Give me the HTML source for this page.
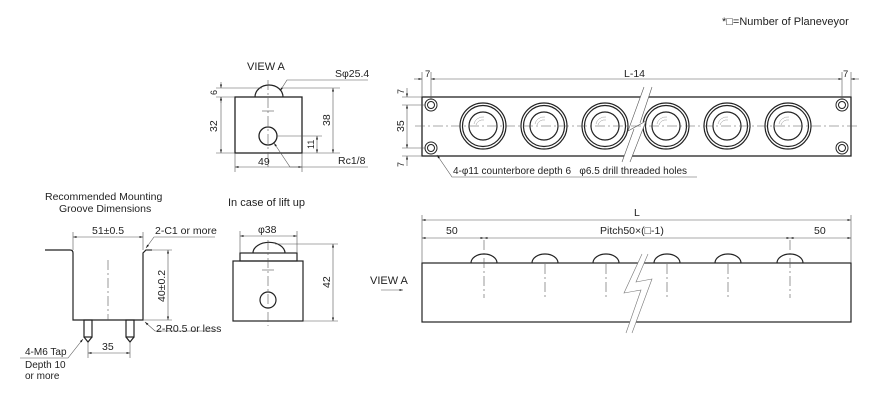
<!DOCTYPE html>
<html><head><meta charset="utf-8"><style>
body{margin:0;background:#fff}
svg{display:block}
text{font-family:"Liberation Sans","Noto Sans CJK JP",sans-serif;fill:#222}
</style></head><body>
<svg width="888" height="400" viewBox="0 0 888 400" xmlns="http://www.w3.org/2000/svg">
<defs>
<marker id="a" viewBox="0 0 10 10" refX="10" refY="5" markerWidth="6" markerHeight="6" orient="auto-start-reverse"><path d="M0,2 L10,5 L0,8z" fill="#222"/></marker>
</defs>
<g font-size="10.5">
<text x="722" y="25" font-size="11">*□=Number of Planeveyor</text>

<!-- VIEW A -->
<text x="247" y="70" font-size="11">VIEW A</text>
<g stroke="#222" fill="none">
<rect x="235" y="97" width="67" height="56" stroke-width="1.3"/>
<path d="M255,97 A14,12 0 0 1 283,97" stroke-width="1.2"/>
<circle cx="268" cy="136" r="9" stroke-width="1.3"/>
</g>
<g stroke="#555" stroke-width="0.6" fill="none">
<line x1="268" y1="80" x2="268" y2="170" stroke-dasharray="10,3,2,3"/>
<line x1="262" y1="111" x2="274" y2="111"/>
<line x1="216" y1="88" x2="262" y2="88"/><line x1="216" y1="97" x2="235" y2="97"/><line x1="216" y1="153" x2="235" y2="153"/>
<line x1="221" y1="82" x2="221" y2="88" marker-end="url(#a)"/><line x1="221" y1="103" x2="221" y2="97" marker-end="url(#a)"/>
<line x1="221" y1="97" x2="221" y2="153" marker-start="url(#a)" marker-end="url(#a)"/>
<line x1="282" y1="88" x2="340" y2="88"/><line x1="302" y1="153" x2="340" y2="153"/><line x1="277" y1="136" x2="322" y2="136"/>
<line x1="333" y1="88" x2="333" y2="153" marker-start="url(#a)" marker-end="url(#a)"/>
<line x1="317" y1="136" x2="317" y2="153" marker-start="url(#a)" marker-end="url(#a)"/>
<line x1="235" y1="153" x2="235" y2="172"/><line x1="302" y1="153" x2="302" y2="172"/>
<line x1="235" y1="167" x2="302" y2="167" marker-start="url(#a)" marker-end="url(#a)"/>
<path d="M368,80 L287,80 L280,91" marker-end="url(#a)"/>
<path d="M368,167 L290,167 L274,143" marker-end="url(#a)"/>
</g>
<text x="335" y="77">Sφ25.4</text>
<text x="338" y="164">Rc1/8</text>
<text x="258" y="165">49</text>
<text transform="translate(217,95) rotate(-90)" font-size="9">6</text>
<text transform="translate(217,132) rotate(-90)">32</text>
<text transform="translate(330,126) rotate(-90)">38</text>
<text transform="translate(314,149) rotate(-90)" font-size="9">11</text>

<!-- Top view -->
<g stroke="#222" fill="none">
<rect x="422" y="97" width="429" height="59" stroke-width="1.3"/>
<g stroke-width="1"><circle cx="431" cy="105" r="6"/><circle cx="431" cy="105" r="3.5"/><circle cx="431" cy="148" r="6"/><circle cx="431" cy="148" r="3.5"/><circle cx="842" cy="105" r="6"/><circle cx="842" cy="105" r="3.5"/><circle cx="842" cy="148" r="6"/><circle cx="842" cy="148" r="3.5"/></g>
<g stroke-width="1.2">
<circle cx="483" cy="126" r="23"/><circle cx="483" cy="126" r="20.5"/><circle cx="483" cy="126" r="14"/>
<circle cx="544" cy="126" r="23"/><circle cx="544" cy="126" r="20.5"/><circle cx="544" cy="126" r="14"/>
<circle cx="605" cy="126" r="23"/><circle cx="605" cy="126" r="20.5"/><circle cx="605" cy="126" r="14"/>
<circle cx="666" cy="126" r="23"/><circle cx="666" cy="126" r="20.5"/><circle cx="666" cy="126" r="14"/>
<circle cx="727" cy="126" r="23"/><circle cx="727" cy="126" r="20.5"/><circle cx="727" cy="126" r="14"/>
<circle cx="788" cy="126" r="23"/><circle cx="788" cy="126" r="20.5"/><circle cx="788" cy="126" r="14"/>
</g>
</g>
<g stroke="#999" stroke-width="0.5" fill="none">
<path d="M474,124 a9,9 0 0 1 10,-7 M476,125 a7,7 0 0 1 8,-5 M535,124 a9,9 0 0 1 10,-7 M537,125 a7,7 0 0 1 8,-5 M596,124 a9,9 0 0 1 10,-7 M598,125 a7,7 0 0 1 8,-5 M657,124 a9,9 0 0 1 10,-7 M659,125 a7,7 0 0 1 8,-5 M718,124 a9,9 0 0 1 10,-7 M720,125 a7,7 0 0 1 8,-5 M779,124 a9,9 0 0 1 10,-7 M781,125 a7,7 0 0 1 8,-5"/>
</g>
<polygon points="644,87 652,87 640,123 646,121 630,162 622,162 634,129 628,131" fill="#fff"/>
<path d="M644,87 L628,131 L646,121 M652,87 L640,123 M634,129 L622,162 M646,121 L630,162" stroke="#555" stroke-width="0.6" fill="none"/>
<g stroke="#555" stroke-width="0.6" fill="none">
<line x1="415" y1="126" x2="860" y2="126" stroke-dasharray="10,3,2,3"/>
<line x1="422" y1="72" x2="422" y2="97"/><line x1="431" y1="72" x2="431" y2="100"/><line x1="842" y1="72" x2="842" y2="100"/><line x1="851" y1="72" x2="851" y2="97"/>
<line x1="414" y1="79" x2="422" y2="79" marker-end="url(#a)"/><line x1="431" y1="79" x2="842" y2="79" marker-start="url(#a)" marker-end="url(#a)"/><line x1="859" y1="79" x2="851" y2="79" marker-end="url(#a)"/>
<line x1="402" y1="97" x2="422" y2="97"/><line x1="402" y1="105" x2="426" y2="105"/><line x1="402" y1="148" x2="426" y2="148"/><line x1="402" y1="156" x2="422" y2="156"/>
<line x1="407" y1="88" x2="407" y2="97" marker-end="url(#a)"/><line x1="407" y1="105" x2="407" y2="148" marker-start="url(#a)" marker-end="url(#a)"/><line x1="407" y1="166" x2="407" y2="156" marker-end="url(#a)"/>
<path d="M697,177 L452,177 L437,155" marker-end="url(#a)"/>
</g>
<text x="425" y="77" font-size="9.5">7</text><text x="843" y="77" font-size="9.5">7</text>
<text x="624" y="77">L-14</text>
<text transform="translate(404,94) rotate(-90)" font-size="9">7</text>
<text transform="translate(404,132) rotate(-90)">35</text>
<text transform="translate(404,167) rotate(-90)" font-size="9">7</text>
<text x="453" y="174" font-size="10">4-φ11 counterbore depth 6&#160;&#160;&#160;φ6.5 drill threaded holes</text>

<!-- Groove -->
<text x="45" y="200" font-size="10.5">Recommended Mounting</text>
<text x="59" y="212" font-size="10.5">Groove Dimensions</text>
<g stroke="#222" stroke-width="1.2" fill="none">
<path d="M45,250 L70,250 Q73,250 73,253 L73,320 L143,320 L143,253 L146,250 L152,250"/>
<rect x="84" y="320" width="8" height="17"/><path d="M84,337 L88,342 L92,337"/>
<rect x="126" y="320" width="8" height="17"/><path d="M126,337 L130,342 L134,337"/>
</g>
<g stroke="#555" stroke-width="0.6" fill="none">
<line x1="108" y1="260" x2="108" y2="320" stroke-dasharray="10,3,2,3"/>
<line x1="73" y1="232" x2="73" y2="250"/><line x1="143" y1="232" x2="143" y2="250"/>
<line x1="73" y1="237" x2="143" y2="237" marker-start="url(#a)" marker-end="url(#a)"/>
<line x1="146" y1="250" x2="172" y2="250"/><line x1="143" y1="320" x2="172" y2="320"/>
<line x1="168" y1="250" x2="168" y2="320" marker-start="url(#a)" marker-end="url(#a)"/>
<line x1="88" y1="342" x2="88" y2="358"/><line x1="130" y1="342" x2="130" y2="358"/>
<line x1="88" y1="353" x2="130" y2="353" marker-start="url(#a)" marker-end="url(#a)"/>
<path d="M215,237 L154,237 L146,248" marker-end="url(#a)"/>
<path d="M215,331 L155,331 L145,322" marker-end="url(#a)"/>
<path d="M20,358 L68,358 L83,339" marker-end="url(#a)"/>
</g>
<text x="92" y="234">51±0.5</text>
<text x="155" y="234">2-C1 or more</text>
<text transform="translate(165,302) rotate(-90)">40±0.2</text>
<text x="156" y="332">2-R0.5 or less</text>
<text x="102" y="350">35</text>
<text x="25" y="355" font-size="10">4-M6 Tap</text>
<text x="25" y="368" font-size="10">Depth 10</text>
<text x="25" y="379" font-size="10">or more</text>

<!-- Lift up -->
<text x="228" y="206" font-size="11">In case of lift up</text>
<g stroke="#222" stroke-width="1.2" fill="none">
<rect x="233" y="261" width="70" height="60"/>
<rect x="240" y="253" width="57" height="8"/>
<path d="M253,253 A15,10 0 0 1 285,253"/>
<circle cx="268" cy="300" r="8"/>
</g>
<g stroke="#555" stroke-width="0.6" fill="none">
<line x1="268" y1="240" x2="268" y2="326" stroke-dasharray="10,3,2,3"/>
<line x1="262" y1="270" x2="274" y2="270"/>
<line x1="240" y1="231" x2="240" y2="253"/><line x1="297" y1="231" x2="297" y2="253"/>
<line x1="240" y1="236" x2="297" y2="236" marker-start="url(#a)" marker-end="url(#a)"/>
<line x1="275" y1="244" x2="338" y2="244"/><line x1="303" y1="321" x2="338" y2="321"/>
<line x1="333" y1="244" x2="333" y2="321" marker-start="url(#a)" marker-end="url(#a)"/>
</g>
<text x="258" y="233">φ38</text>
<text transform="translate(330,288) rotate(-90)">42</text>

<!-- Side view -->
<g stroke="#222" stroke-width="1.2" fill="none">
<rect x="422" y="263" width="429" height="59"/>
<path d="M471,263 A13,9 0 0 1 497,263 M532,263 A13,9 0 0 1 558,263 M593,263 A13,9 0 0 1 619,263 M654,263 A13,9 0 0 1 680,263 M715,263 A13,9 0 0 1 741,263 M777,263 A13,9 0 0 1 803,263"/>
</g>
<polygon points="642,254 648,254 636,282 652,279 632,333 626,333 641,290 624,293" fill="#fff"/>
<path d="M642,254 L624,293 L641,290 L626,333 M648,254 L636,282 L652,279 L632,333" stroke="#777" stroke-width="0.6" fill="none"/>
<g stroke="#555" stroke-width="0.6" fill="none">
<path d="M484,240 V298 M545,264 V298 M606,264 V298 M667,264 V298 M728,264 V298 M790,240 V298" stroke-dasharray="10,3,2,3"/>
<line x1="422" y1="215" x2="422" y2="263"/><line x1="851" y1="215" x2="851" y2="263"/>
<line x1="422" y1="220" x2="851" y2="220" marker-start="url(#a)" marker-end="url(#a)"/>
<line x1="422" y1="238" x2="484" y2="238" marker-start="url(#a)" marker-end="url(#a)"/>
<line x1="484" y1="238" x2="790" y2="238" marker-start="url(#a)" marker-end="url(#a)"/>
<line x1="790" y1="238" x2="851" y2="238" marker-start="url(#a)" marker-end="url(#a)"/>
<line x1="381" y1="290" x2="403" y2="290" marker-end="url(#a)"/>
</g>
<text x="634" y="216">L</text>
<text x="446" y="234">50</text>
<text x="600" y="234">Pitch50×(□-1)</text>
<text x="814" y="234">50</text>
<text x="370" y="284" font-size="11">VIEW A</text>
</g>
</svg>
</body></html>
